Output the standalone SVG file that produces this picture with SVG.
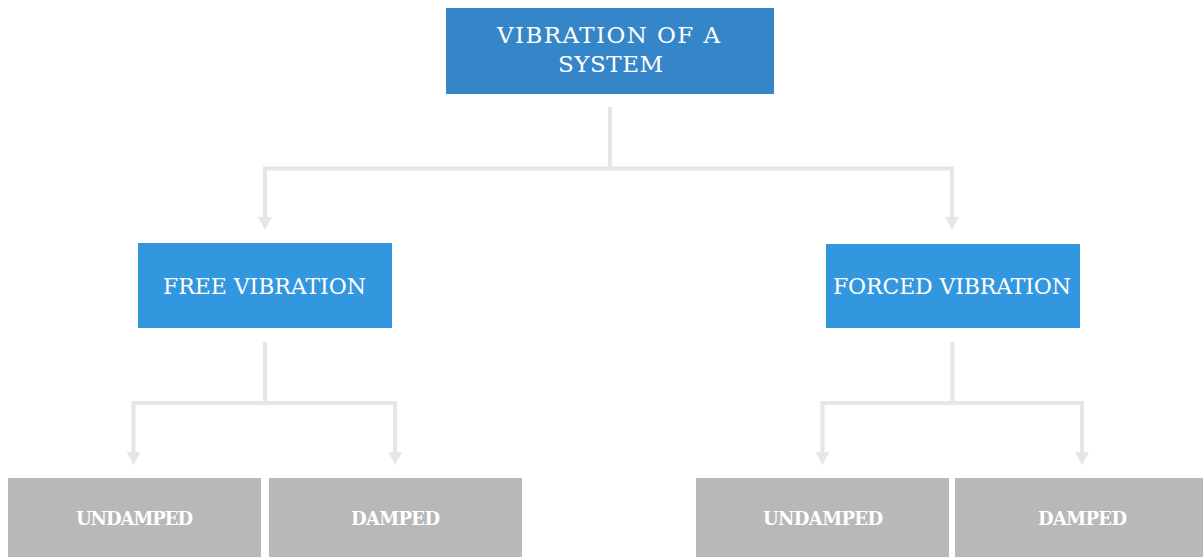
<svg xmlns="http://www.w3.org/2000/svg" xmlns:xlink="http://www.w3.org/1999/xlink" width="1203" height="557" viewBox="0 0 1203 557">
<style>
.top{fill:#3585C9}
.mid{fill:#3297DF}
.leaf{fill:#B8B8B8}
.t{font-family:"DejaVu Serif","Liberation Serif",serif;fill:#FFFFFF;text-anchor:middle;font-size:22px}
.tt{font-size:23px}
.tb{font-family:"DejaVu Serif","Liberation Serif",serif;fill:#FFFFFF;text-anchor:middle;font-size:18px;font-weight:bold}
.c{fill:none;stroke:#E6E6E6;stroke-width:4;stroke-linejoin:miter;stroke-linecap:butt}
.ah{fill:#E6E6E6}
</style>
<defs>
<polygon id="arrow" points="-7,0 7,0 0,13"/>
</defs>
<rect x="0" y="0" width="1203" height="557" fill="#FFFFFF"/>
<g id="connectors">
<path class="c" d="M610,107 V168.5"/>
<path class="c" d="M265,218 V168.5 H952 V218"/>
<path class="c" d="M265,342 V403"/>
<path class="c" d="M133.5,453 V403 H395 V453"/>
<path class="c" d="M952.5,342 V403"/>
<path class="c" d="M822.5,453 V403 H1082 V453"/>
<use xlink:href="#arrow" class="ah" x="265" y="217"/>
<use xlink:href="#arrow" class="ah" x="952" y="217"/>
<use xlink:href="#arrow" class="ah" x="133.5" y="452"/>
<use xlink:href="#arrow" class="ah" x="395" y="452"/>
<use xlink:href="#arrow" class="ah" x="822.5" y="452"/>
<use xlink:href="#arrow" class="ah" x="1082" y="452"/>
</g>
<g id="node-root">
<rect class="top" x="446" y="8" width="328" height="86"/>
<text class="t tt" x="608.5" y="43" textLength="223" lengthAdjust="spacing">VIBRATION OF A</text>
<text class="t tt" x="610.5" y="72" textLength="105" lengthAdjust="spacing">SYSTEM</text>
</g>
<g id="node-free">
<rect class="mid" x="138" y="243" width="254" height="85"/>
<text class="t" x="264.5" y="294" textLength="203" lengthAdjust="spacing">FREE VIBRATION</text>
</g>
<g id="node-forced">
<rect class="mid" x="826" y="244" width="254" height="84"/>
<text class="t" x="952" y="294" textLength="238" lengthAdjust="spacing">FORCED VIBRATION</text>
</g>
<g id="node-free-undamped">
<rect class="leaf" x="8" y="478" width="253" height="79"/>
<text class="tb" x="134.5" y="525" textLength="117" lengthAdjust="spacing">UNDAMPED</text>
</g>
<g id="node-free-damped">
<rect class="leaf" x="269" y="478" width="253" height="79"/>
<text class="tb" x="395.5" y="525" textLength="89" lengthAdjust="spacing">DAMPED</text>
</g>
<g id="node-forced-undamped">
<rect class="leaf" x="696" y="478" width="253" height="79"/>
<text class="tb" x="823" y="525" textLength="120" lengthAdjust="spacing">UNDAMPED</text>
</g>
<g id="node-forced-damped">
<rect class="leaf" x="955" y="478" width="253" height="79"/>
<text class="tb" x="1082.5" y="525" textLength="89" lengthAdjust="spacing">DAMPED</text>
</g>
</svg>
